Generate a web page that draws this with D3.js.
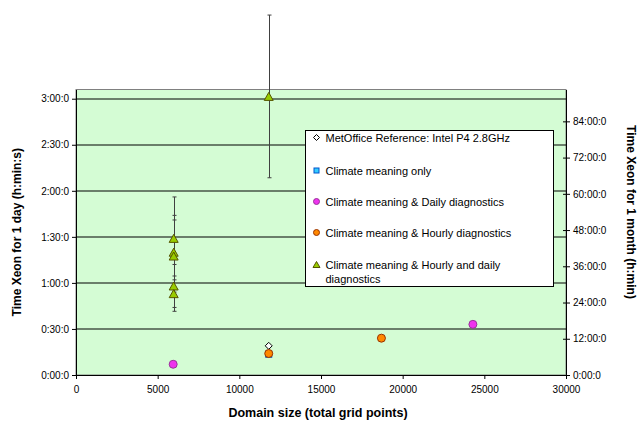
<!DOCTYPE html>
<html>
<head>
<meta charset="utf-8">
<script src="https://d3js.org/d3.v7.min.js"></script>
<style>
  body { margin: 0; background: #fff; }
  text { font-family: "Liberation Sans", Arial, sans-serif; }
</style>
</head>
<body>
<div id="chart"></div>
<script>

// data (x = total grid points, y = minutes for 1 day)
var refX = [11800];
var refY = [19];
var meanOnlyX = [11800];
var meanOnlyY = [13.5];
var dailyX = [5950, 24300];
var dailyY = [7, 33];
var hourlyX = [11800, 18700];
var hourlyY = [14, 24];
var bothX = [5980, 5980, 5980, 5980, 5980, 11800];
var bothY = [89, 80, 77.5, 58, 53, 181.5];
var bothErr = [27, 24, 23.5, 14, 11.5, 53];

var xTicks = [0, 5000, 10000, 15000, 20000, 25000, 30000];
var leftTicks = [0, 30, 60, 90, 120, 150, 180];       // minutes
var rightTicks = [0, 12, 24, 36, 48, 60, 72, 84];     // hours

var legendLabels = [
  "MetOffice Reference: Intel P4 2.8GHz",
  "Climate meaning only",
  "Climate meaning & Daily diagnostics",
  "Climate meaning & Hourly diagnostics",
  "Climate meaning & Hourly and daily|diagnostics"
];

// set the dimensions and margins of the graph
var margin = {top: 89.5, right: 74, bottom: 49, left: 76},
    width = 640 - margin.left - margin.right,
    height = 424 - margin.top - margin.bottom;

var svg = d3.select("#chart")
  .append("svg")
    .attr("width", 640)
    .attr("height", 424);

var g = svg.append("g")
    .attr("transform", "translate(" + margin.left + "," + margin.top + ")");

// scales
var x = d3.scaleLinear().domain([0, 30000]).range([0, width]);
var y = d3.scaleLinear().domain([0, 186]).range([height, 0]);
var y2 = d3.scaleLinear().domain([0, 186 / 60 * 30.5]).range([height, 0]);

// plot background
g.append("rect")
    .attr("width", width)
    .attr("height", height)
    .style("fill", "#d4fcd4")
    .style("stroke", "#808080")
    .style("stroke-width", 1);

// horizontal gridlines
g.selectAll(".grid")
  .data(leftTicks.slice(1))
  .enter()
  .append("line")
    .attr("x1", 0)
    .attr("x2", width)
    .attr("y1", d => Math.round(y(d)) + 0.5)
    .attr("y2", d => Math.round(y(d)) + 0.5)
    .style("stroke", "#000")
    .style("stroke-width", 1);

function fmtLeft(m) {
  var h = Math.floor(m / 60), mm = m % 60;
  return h + ":" + (mm < 10 ? "0" : "") + mm + ":0";
}

// axes
var xAxis = g.append("g")
    .attr("transform", "translate(0," + height + ")")
    .call(d3.axisBottom(x).tickValues(xTicks).tickSize(4).tickSizeOuter(0).tickFormat(d3.format("d")));

var yAxis = g.append("g")
    .call(d3.axisLeft(y).tickValues(leftTicks).tickSize(4).tickSizeOuter(0).tickFormat(fmtLeft));

var yAxis2 = g.append("g")
    .attr("transform", "translate(" + width + ",0)")
    .call(d3.axisRight(y2).tickValues(rightTicks).tickSize(4).tickSizeOuter(0).tickFormat(d => d + ":00:0"));

// right axis ticks cross the line
yAxis2.selectAll(".tick line").attr("x1", -3);

[xAxis, yAxis, yAxis2].forEach(function(a) {
  a.select(".domain").style("stroke", "#000");
  a.selectAll("text").style("font-size", "10px").style("fill", "#000");
});
xAxis.selectAll("text").attr("dy", "1.05em");

// axis labels
svg.append("text")
    .attr("transform", "translate(21," + (margin.top + height / 2) + ") rotate(-90)")
    .style("text-anchor", "middle")
    .style("font-size", "12px")
    .style("font-weight", "bold")
    .text("Time Xeon for 1 day (h:min:s)");

svg.append("text")
    .attr("transform", "translate(627,212) rotate(90)")
    .style("text-anchor", "middle")
    .style("font-size", "12px")
    .style("font-weight", "bold")
    .text("Time Xeon for 1 month (h:min)");

svg.append("text")
    .attr("x", 318)
    .attr("y", 417)
    .style("text-anchor", "middle")
    .style("font-size", "12.5px")
    .style("font-weight", "bold")
    .text("Domain size (total grid points)");

// marker shapes
var triangle = function(s) {
  return "M0," + (-s / 2) + "L" + (s / 2 + 0.5) + "," + (s / 2) + "L" + (-s / 2 - 0.5) + "," + (s / 2) + "Z";
};
var diamond = function(s) {
  return "M0," + (-s / 2) + "L" + (s / 2) + ",0L0," + (s / 2) + "L" + (-s / 2) + ",0Z";
};

var styles = [
  {shape: "diamond", fill: "#fff", stroke: "#000"},
  {shape: "square", fill: "#33ccff", stroke: "#0055cc"},
  {shape: "circle", fill: "#ee33ee", stroke: "#993399"},
  {shape: "circle", fill: "#ff8800", stroke: "#993300"},
  {shape: "triangle", fill: "#99cc00", stroke: "#555500"}
];

function drawMarker(sel, st, size) {
  if (st.shape == "circle") {
    sel.append("circle").attr("r", size / 2);
  } else if (st.shape == "square") {
    sel.append("rect").attr("x", -size / 2 + 0.5).attr("y", -size / 2 + 0.5).attr("width", size - 1).attr("height", size - 1);
  } else if (st.shape == "triangle") {
    sel.append("path").attr("d", triangle(size));
  } else {
    sel.append("path").attr("d", diamond(size));
  }
  sel.selectAll("*").style("fill", st.fill).style("stroke", st.stroke).style("stroke-width", 1);
}

function toPts(xs, ys) {
  return xs.map((v, i) => ({x: v, y: ys[i], err: bothErr[i]}));
}

// error bars for the hourly and daily series
var bars = g.append("g");
toPts(bothX, bothY).forEach(function(d) {
  var cx = Math.round(x(d.x)) + 0.5;
  var yt = y(d.y + d.err), yb = y(d.y - d.err);
  bars.append("line").attr("x1", cx).attr("x2", cx).attr("y1", yt).attr("y2", yb);
  bars.append("line").attr("x1", cx - 2).attr("x2", cx + 2).attr("y1", yt).attr("y2", yt);
  bars.append("line").attr("x1", cx - 2).attr("x2", cx + 2).attr("y1", yb).attr("y2", yb);
});
bars.selectAll("line").style("stroke", "#404040").style("stroke-width", 1);

// points
var series = [
  [refX, refY], [meanOnlyX, meanOnlyY], [dailyX, dailyY], [hourlyX, hourlyY], [bothX, bothY]
];
var sizes = [7, 7, 8, 8, 8];
var draw = [1, 0, 2, 3, 4];   // square first so the orange circle sits on top
draw.forEach(function(si) {
  toPts(series[si][0], series[si][1]).forEach(function(d) {
    var m = g.append("g").attr("transform", "translate(" + x(d.x) + "," + y(d.y) + ")");
    drawMarker(m, styles[si], sizes[si]);
  });
});

// legend
var legend = svg.append("g").attr("transform", "translate(305.5,130.5)");
legend.append("rect")
    .attr("width", 248)
    .attr("height", 156)
    .style("fill", "#fff")
    .style("stroke", "#000");

var rowY = [7, 40, 71, 102, 134];
legendLabels.forEach(function(lab, i) {
  var row = legend.append("g").attr("transform", "translate(0," + rowY[i] + ")");
  var m = row.append("g").attr("transform", "translate(11,0)");
  drawMarker(m, styles[i], 6);
  var t = row.append("text")
      .attr("x", 20)
      .attr("y", 4)
      .style("font-size", "11px");
  lab.split("|").forEach(function(part, k) {
    t.append("tspan").attr("x", 20).attr("dy", k == 0 ? 0 : 14).text(part);
  });
});

</script>
</body>
</html>
